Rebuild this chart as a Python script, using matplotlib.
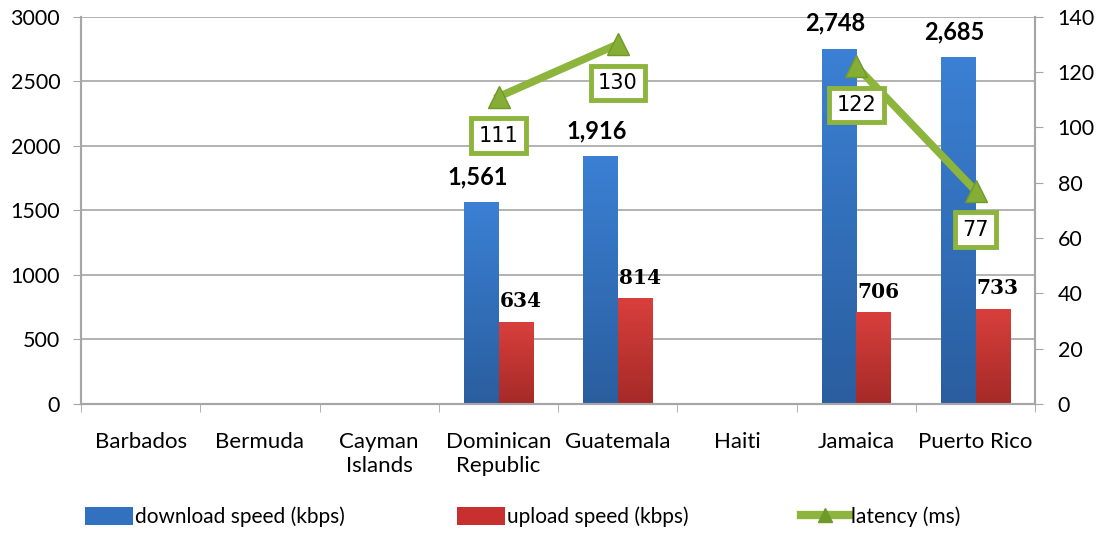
import numpy as np
import matplotlib.pyplot as plt
from matplotlib.patches import Patch
from matplotlib.lines import Line2D
from matplotlib.colors import LinearSegmentedColormap

countries = ['Barbados', 'Bermuda', 'Cayman\nIslands', 'Dominican\nRepublic',
             'Guatemala', 'Haiti', 'Jamaica', 'Puerto Rico']
download = [np.nan, np.nan, np.nan, 1561, 1916, np.nan, 2748, 2685]
upload = [np.nan, np.nan, np.nan, 634, 814, np.nan, 706, 733]
latency = [np.nan, np.nan, np.nan, 111, 130, np.nan, 122, 77]

plt.rcParams['font.family'] = ['Lato', 'DejaVu Sans']

fig = plt.figure(figsize=(11.02, 5.33), dpi=100)
ax = fig.add_axes([0.0735, 0.242, 0.866, 0.727])
ax2 = ax.twinx()

x = np.arange(len(countries))
w = 0.29
blue = LinearSegmentedColormap.from_list('b', ['#2a5e9f', '#3b80d4'])
red = LinearSegmentedColormap.from_list('r', ['#a52a27', '#d83f3c'])
grad = np.linspace(0, 1, 100).reshape(-1, 1)

def gradient_bar(xl, h, cmap):
    ax.imshow(grad, extent=(xl, xl + w, 0, h), origin='lower', cmap=cmap,
              aspect='auto', zorder=3)

for xi, d, u in zip(x, download, upload):
    if np.isnan(d):
        continue
    gradient_bar(xi - w, d, blue)
    gradient_bar(xi, u, red)
    ax.text(xi - w / 2 - 0.03, d + 110, f'{int(d):,}', ha='center', va='bottom',
            fontsize=17, fontweight='bold', zorder=5)
    ax.text(xi + w / 2 + 0.04, u + 85, f'{int(u)}', ha='center', va='bottom',
            fontsize=14.5, fontweight='bold', family='DejaVu Serif', zorder=5)

ax.set_xlim(-0.5, 7.5)
ax.set_ylim(0, 3000)
ax.set_yticks(np.arange(0, 3001, 500))
ax.grid(axis='y', color='#a6a6a6', linewidth=1.2, zorder=0)
ax.set_axisbelow(True)
ax.set_xticks(x)
ax.set_xticklabels(countries, fontsize=16, linespacing=1.25)
ax.set_xticks(np.arange(-0.5, 8, 1), minor=True)
ax.tick_params(axis='x', which='major', length=0, pad=20)
ax.tick_params(axis='x', which='minor', length=6, color='#a6a6a6')
ax.tick_params(axis='y', labelsize=15.5, length=6, color='#a6a6a6', pad=9)

for s in ['left', 'right', 'bottom']:
    ax.spines[s].set_color('#a6a6a6')
    ax.spines[s].set_linewidth(1.5)
    ax2.spines[s].set_color('#a6a6a6')
    ax2.spines[s].set_linewidth(1.5)
ax.spines['top'].set_visible(False)
ax2.spines['top'].set_visible(False)

# latency line on the secondary axis
lat = np.array(latency, dtype=float)
green = '#8db43c'
ax2.plot(x, lat, color=green, linewidth=5.5, marker='^', markersize=16,
         markerfacecolor='#86ad35', markeredgecolor='#6f9a2a', zorder=6)
for xi, v in zip(x, lat):
    if np.isnan(v):
        continue
    ax2.text(xi, v - 14, f'{int(v)}', ha='center', va='center', fontsize=15,
             family='DejaVu Sans', zorder=7,
             bbox=dict(boxstyle='square,pad=0.35', facecolor='white',
                       edgecolor=green, linewidth=3.5))
ax2.set_ylim(0, 140)
ax2.set_yticks(np.arange(0, 141, 20))
ax2.tick_params(axis='y', labelsize=15.5, length=6, color='#a6a6a6', pad=10)

handles = [Patch(facecolor='#3270c0', edgecolor='none'),
           Patch(facecolor='#c8302f', edgecolor='none'),
           Line2D([0], [0], color=green, linewidth=6, marker='^', markersize=10,
                  markerfacecolor='#6f9a2a', markeredgecolor='#6f9a2a')]
fig.legend(handles, ['download speed (kbps)', 'upload speed (kbps)', 'latency (ms)'],
           loc='center left', bbox_to_anchor=(0.06, 0.03), ncol=3, frameon=False,
           fontsize=15, handlelength=2.3, handleheight=0.9, handletextpad=0.1,
           columnspacing=5.4)

fig.savefig('out.png', dpi=100)
